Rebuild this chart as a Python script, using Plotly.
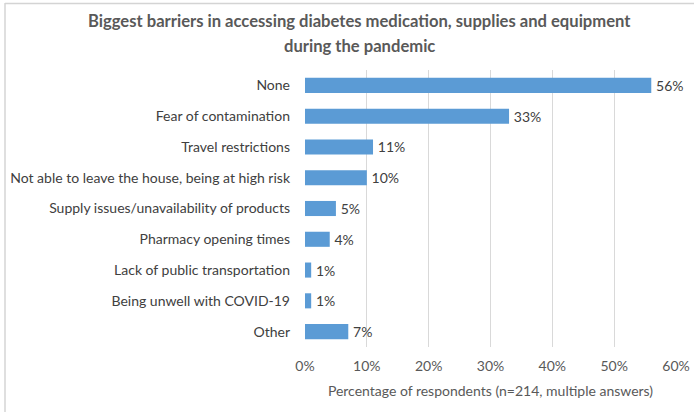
import plotly.graph_objects as go

categories = ["None", "Fear of contamination", "Travel restrictions",
              "Not able to leave the house, being at high risk",
              "Supply issues/unavailability of products", "Pharmacy opening times",
              "Lack of public transportation", "Being unwell with COVID-19", "Other"]
values = [56, 33, 11, 10, 5, 4, 1, 1, 7]
tick_vals = [0, 10, 20, 30, 40, 50, 60]
tick_text = ["0%", "10%", "20%", "30%", "40%", "50%", "60%"]
value_labels = [f"\u2009{v}%" for v in values]
title_lines = ["Biggest barriers in accessing diabetes medication, supplies and equipment",
               "during the pandemic"]

W, H = 694, 412
ML, MR, MT, MB = 305, 18, 70, 65
pw, ph = W - ML - MR, H - MT - MB

def px_x(px):
    return (px - ML) / pw

def px_y(py):
    return (H - MB - py) / ph

FONT = "Lato"

fig = go.Figure(go.Bar(
    x=values, y=categories, orientation="h",
    marker=dict(color="#5B9BD5", line=dict(width=0)),
    width=0.49,
    text=value_labels, textposition="outside", constraintext="none",
    textfont=dict(family=FONT, size=14, color="#404040"),
    cliponaxis=False, hoverinfo="skip",
))

fig.update_layout(
    width=W, height=H,
    margin=dict(l=ML, r=MR, t=MT, b=MB, autoexpand=False),
    paper_bgcolor="white", plot_bgcolor="white",
    showlegend=False,
    font=dict(family=FONT, size=14, color="#595959"),
    xaxis=dict(range=[0, 60], tickvals=tick_vals, ticktext=tick_text,
               showgrid=True, gridcolor="#D9D9D9", gridwidth=1,
               zeroline=False, showline=False, ticks="", automargin=False,
               ticklabelstandoff=9,
               tickfont=dict(family=FONT, size=14, color="#595959"),
               title=dict(text="Percentage of respondents (n=214, multiple answers)",
                          font=dict(family=FONT, size=14, color="#595959"), standoff=13)),
    yaxis=dict(categoryorder="array", categoryarray=categories[::-1],
               autorange=False, range=[-0.5, len(categories) - 0.5],
               showgrid=False, zeroline=False, showline=False, ticks="", automargin=False,
               ticklabelstandoff=14,
               tickfont=dict(family=FONT, size=14, color="#404040")),
)

for line, ypx in zip(title_lines, [21, 46]):
    fig.add_annotation(text=f"<b>{line}</b>", xref="paper", yref="paper",
                       x=px_x(359), y=px_y(ypx), xanchor="center", yanchor="middle",
                       showarrow=False,
                       font=dict(family=FONT, size=16.6, color="#595959"))

# outer chart frame (top and left edges visible)
fig.add_shape(type="line", xref="paper", yref="paper",
              x0=px_x(5), x1=px_x(W + 5), y0=px_y(3.5), y1=px_y(3.5),
              line=dict(color="#D4D4D4", width=1.5))
fig.add_shape(type="line", xref="paper", yref="paper",
              x0=px_x(5), x1=px_x(5), y0=px_y(3), y1=px_y(H + 5),
              line=dict(color="#D4D4D4", width=1.5))

fig.write_html("out.html", config={"displayModeBar": False},
               post_script="document.body.style.margin='0';document.body.style.padding='0';")
